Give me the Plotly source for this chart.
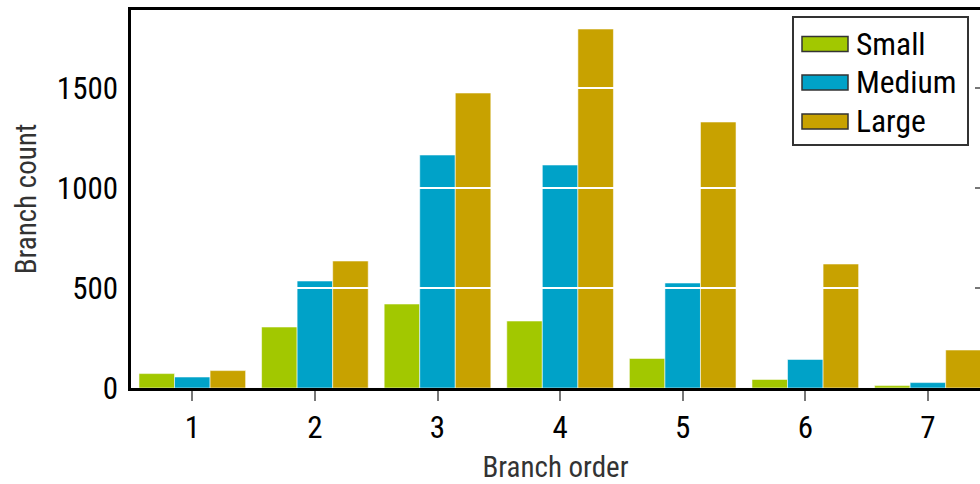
import plotly.graph_objects as go

# ---- data ----
categories = [1, 2, 3, 4, 5, 6, 7]
series_names = ["Small", "Medium", "Large"]
small = [72, 305, 420, 335, 148, 43, 12]
medium = [55, 535, 1165, 1115, 525, 143, 27]
large = [87, 635, 1475, 1795, 1330, 620, 190]
colors = ["#a2c800", "#00a2c8", "#c8a200"]
y_ticks = [0, 500, 1000, 1500]
x_title = "Branch order"
y_title = "Branch count"

W, H = 980, 484
ML, MR, MT, MB = 131, 0, 10, 96
PW, PH = W - ML - MR, H - MT - MB
Y_RANGE = [0, 1890]

def px_x(x):
    return (x - ML) / PW

def px_y(y):
    return (H - MB - y) / PH

FONT = "Roboto Condensed, Roboto, sans-serif"

fig = go.Figure()
for name, vals, col in zip(series_names, [small, medium, large], colors):
    fig.add_trace(go.Bar(
        x=categories, y=vals, name=name,
        marker=dict(color=col, line=dict(color="rgba(255,255,255,0.55)", width=1)),
        showlegend=False,
    ))

shapes = []
# white gridlines drawn above bars
for t in y_ticks[1:]:
    shapes.append(dict(type="line", xref="paper", yref="y", x0=0, x1=1, y0=t, y1=t,
                       line=dict(color="white", width=2), layer="above"))
# mirrored tick marks on the right edge (partly cut off in the original)
for t in y_ticks[1:]:
    shapes.append(dict(type="line", xref="paper", yref="y", x0=1 - 5 / PW, x1=1, y0=t, y1=t,
                       line=dict(color="#777777", width=2), layer="above"))

# custom legend
shapes.append(dict(type="rect", xref="paper", yref="paper",
                   x0=px_x(793), x1=px_x(968), y0=px_y(145), y1=px_y(17),
                   line=dict(color="#333333", width=2), fillcolor="white", layer="above"))
annotations = []
row_y = [44, 82.5, 121.5]
for name, col, ry in zip(series_names, colors, row_y):
    shapes.append(dict(type="rect", xref="paper", yref="paper",
                       x0=px_x(802), x1=px_x(848), y0=px_y(ry + 7.5), y1=px_y(ry - 7.5),
                       line=dict(color="#333333", width=1.5), fillcolor=col, layer="above"))
    annotations.append(dict(xref="paper", yref="paper", x=px_x(854), y=px_y(ry),
                            text=name, showarrow=False, xanchor="left", yanchor="middle",
                            font=dict(family=FONT, size=31.5, color="black")))

fig.update_layout(
    width=W, height=H,
    margin=dict(l=ML, r=MR, t=MT, b=MB, pad=0),
    paper_bgcolor="white", plot_bgcolor="white",
    barmode="group", bargap=0.13, bargroupgap=0,
    font=dict(family=FONT, size=31, color="black"),
    shapes=shapes, annotations=annotations,
    xaxis=dict(
        range=[0.5, 0.5 + PW / 122.6],
        tickvals=categories, ticks="outside", ticklen=10, tickwidth=2, tickcolor="#777777",
        showline=True, linecolor="black", linewidth=2.5, mirror=True,
        showgrid=False, zeroline=False,
        title=dict(text=x_title, font=dict(size=29, color="#333333"), standoff=14),
    ),
    yaxis=dict(
        range=Y_RANGE,
        tickvals=y_ticks, ticks="inside", ticklen=10, tickwidth=2, tickcolor="#777777",
        showline=True, linecolor="black", linewidth=2.5, mirror=False,
        showgrid=False, zeroline=False, ticklabelstandoff=4,
        title=dict(text=y_title, font=dict(size=29, color="#333333"), standoff=12),
    ),
)

fig.write_html("out.html", config={"displayModeBar": False},
               post_script="document.body.style.margin='0';document.body.style.overflow='hidden';")
